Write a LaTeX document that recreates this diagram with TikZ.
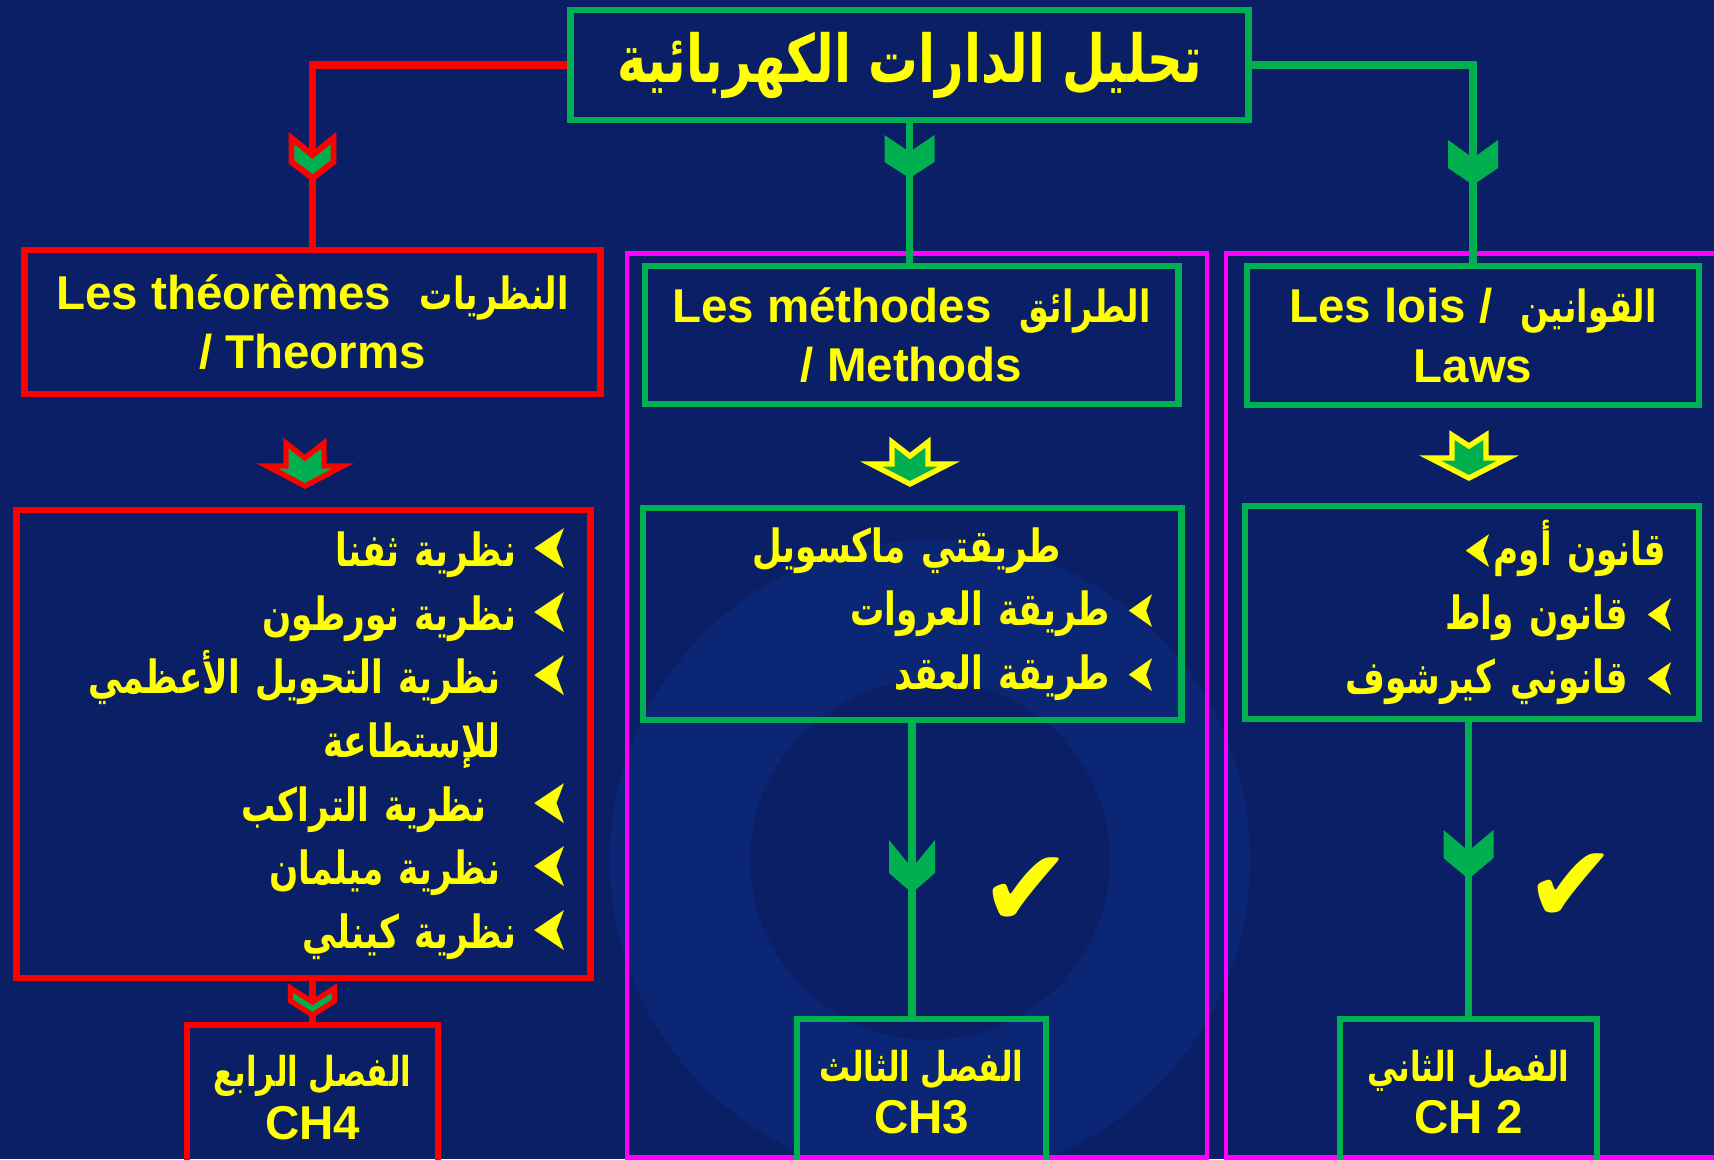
\documentclass[tikz,border=0pt]{standalone}
\usepackage{fontspec}
\usepackage{graphicx}
\setmainfont{Liberation Sans}
\newfontfamily\arabicfont[Script=Arabic, FakeStretch=0.75]{DejaVu Sans}
\newfontfamily\symfont{DejaVu Sans}
\TeXXeTstate=1

\definecolor{bgblue}{RGB}{10,31,102}
\definecolor{swirl}{RGB}{12,38,118}
\definecolor{pptgreen}{RGB}{0,176,80}
\definecolor{pptred}{RGB}{255,0,0}
\definecolor{pptyellow}{RGB}{255,255,0}
\definecolor{pptmagenta}{RGB}{255,0,255}

\newcommand\artext[1]{{\arabicfont\beginR #1\endR}}
\newcommand\bul[2]{\raisebox{-0.02cm}{\reflectbox{\resizebox{#1}{#2}{\symfont\mdseries ➤}}}}

\begin{document}
\begin{tikzpicture}[x=0.01cm, y=-0.01cm,
  greenbox/.style={draw=pptgreen, line width=1.9pt},
  redbox/.style={draw=pptred, line width=1.9pt},
  frame/.style={draw=pptmagenta, line width=1.3pt},
  boxtext/.style={text=pptyellow, font=\fontsize{13.5}{17}\selectfont\bfseries, align=center},
  chtext/.style={text=pptyellow, font=\fontsize{13.5}{15}\selectfont\bfseries, align=center},
  listtext/.style={text=pptyellow, font=\fontsize{13}{18.1}\selectfont\bfseries, align=right, inner xsep=0pt},
  greenline/.style={draw=pptgreen, line width=2.2pt},
  redline/.style={draw=pptred, line width=2.1pt},
  checkmark/.style={text=pptyellow, font=\symfont\fontsize{31}{31}\selectfont}]

\useasboundingbox (0,0) rectangle (1714,1159);
\clip (0,0) rectangle (1714,1159);
\fill[bgblue] (0,0) rectangle (1714,1159);
\draw[swirl, line width=1.4cm] (930,860) circle[radius=250];

% frames
\node [frame, minimum width=5.80cm, minimum height=9.03cm] (midframe) at (917,705.5) {};
\node [frame, minimum width=4.94cm, minimum height=9.03cm] (rightframe) at (1473,705.5) {};

% boxes
\node [greenbox, boxtext, minimum width=6.77cm, minimum height=1.10cm] (title) at (909.5,65) {\fontsize{18.8}{22}\selectfont\artext{تحليل الدارات الكهربائية}};

\node [redbox, boxtext, minimum width=5.75cm, minimum height=1.44cm] (theo) at (312.5,322) {Les théorèmes\hspace{0.6em}{\fontsize{12.6}{17}\selectfont\artext{النظريات}}\\/ Theorms};
\node [greenbox, boxtext, minimum width=5.33cm, minimum height=1.38cm] (methods) at (911.5,335) {Les méthodes\hspace{0.6em}{\fontsize{12.6}{17}\selectfont\artext{الطرائق}}\\/ Methods};
\node [greenbox, boxtext, minimum width=4.52cm, minimum height=1.39cm] (laws) at (1473,335.5) {Les lois /\hspace{0.6em}{\fontsize{12.6}{17}\selectfont\artext{القوانين}}\\Laws};

\node [redbox, listtext, minimum width=5.73cm, minimum height=4.68cm, text width=5.31cm] (rlist) at (303.5,744) {%
\artext{نظرية ثفنا}\hspace{0.16cm}\bul{0.37cm}{0.40cm}\\
\artext{نظرية نورطون}\hspace{0.16cm}\bul{0.37cm}{0.40cm}\\
\artext{نظرية التحويل الأعظمي}\hspace{0.32cm}\bul{0.37cm}{0.40cm}\\
\artext{للإستطاعة}\hspace*{0.69cm}\mbox{}\\
\artext{نظرية التراكب}\hspace{0.46cm}\bul{0.37cm}{0.40cm}\\
\artext{نظرية ميلمان}\hspace{0.32cm}\bul{0.37cm}{0.40cm}\\
\artext{نظرية كينلي}\hspace{0.16cm}\bul{0.37cm}{0.40cm}};
\node [greenbox, listtext, minimum width=5.38cm, minimum height=2.12cm, text width=4.88cm] (mlist) at (912,614) {%
\artext{طريقتي ماكسويل}\hspace*{0.95cm}\mbox{}\\
\artext{طريقة العروات}\hspace{0.17cm}\bul{0.29cm}{0.33cm}\\
\artext{طريقة العقد}\hspace{0.17cm}\bul{0.29cm}{0.33cm}};
\node [greenbox, listtext, minimum width=4.54cm, minimum height=2.13cm, text width=4.06cm] (llist) at (1472,612.5) {%
\bul{0.29cm}{0.33cm}\artext{قانون أوم}\hspace*{0.09cm}\mbox{}\\
\artext{قانون واط}\hspace{0.18cm}\bul{0.29cm}{0.33cm}\\
\artext{قانوني كيرشوف}\hspace{0.18cm}\bul{0.29cm}{0.33cm}};

\node [redbox, chtext, minimum width=2.51cm, minimum height=1.45cm] (ch4) at (312.5,1097.5) {{\fontsize{11.7}{15}\selectfont\artext{الفصل الرابع}}\\CH4};
\node [greenbox, chtext, minimum width=2.49cm, minimum height=1.46cm] (ch3) at (921.5,1092) {{\fontsize{11.7}{15}\selectfont\artext{الفصل الثالث}}\\CH3};
\node [greenbox, chtext, minimum width=2.57cm, minimum height=1.46cm] (ch2) at (1468.5,1092) {{\fontsize{11.7}{15}\selectfont\artext{الفصل الثاني}}\\CH 2};

% connectors
\draw[redline] (title.west) -| (theo.north);
\draw[greenline] (title.south) -- (title.south |- methods.north);
\draw[greenline] (title.east) -| (laws.north);
\draw[redline] (ch4.north |- rlist.south) -- (ch4.north);
\draw[greenline] (mlist.south) -- (mlist.south |- ch3.north);
\draw[greenline] (ch2.north |- llist.south) -- (ch2.north);

% chevrons on the connectors
\filldraw[fill=pptgreen, draw=pptred, line width=1.7pt, shift={(312.5,135)}] (-21,3) -- (-21,27) -- (0,43) -- (21,27) -- (21,3) -- (0,20) -- cycle;
\fill[pptgreen, shift={(909.5,135)}] (-25,0) -- (-25,27) -- (0,43) -- (25,27) -- (25,0) -- (0,17) -- cycle;
\fill[pptgreen, shift={(1473,140)}] (-25,0) -- (-25,28) -- (0,45) -- (25,28) -- (25,0) -- (0,18) -- cycle;
\filldraw[fill=pptgreen, draw=pptred, line width=1.5pt, shift={(312.5,986)}] (-22,2) -- (-22,15) -- (0,29) -- (22,15) -- (22,2) -- (0,16) -- cycle;
\fill[pptgreen, shift={(912,840)}] (-23,0) -- (-23,33) -- (0,53) -- (23,33) -- (23,0) -- (0,28) -- cycle;
\fill[pptgreen, shift={(1468.5,830)}] (-25,0) -- (-25,28) -- (0,49) -- (25,28) -- (25,0) -- (0,21) -- cycle;

% block arrows
\filldraw[fill=pptgreen, draw=pptred, line width=1.5pt, shift={(305,440)}] (-19,3) -- (0,18) -- (19,3) -- (19,26) -- (38,26) -- (0,46) -- (-38,26) -- (-19,26) -- cycle;
\filldraw[fill=pptgreen, draw=pptyellow, line width=1.5pt, shift={(910,439)}] (-18,3) -- (0,17) -- (18,3) -- (18,25) -- (39,25) -- (0,45) -- (-39,25) -- (-18,25) -- cycle;
\filldraw[fill=pptgreen, draw=pptyellow, line width=1.5pt, shift={(1469,432)}] (-17,3) -- (0,14) -- (17,3) -- (17,26) -- (39,26) -- (0,46) -- (-39,26) -- (-17,26) -- cycle;

\node [checkmark] (check3) at (1026,892) {✔};
\node [checkmark] (check2) at (1571,888) {✔};

\end{tikzpicture}
\end{document}
